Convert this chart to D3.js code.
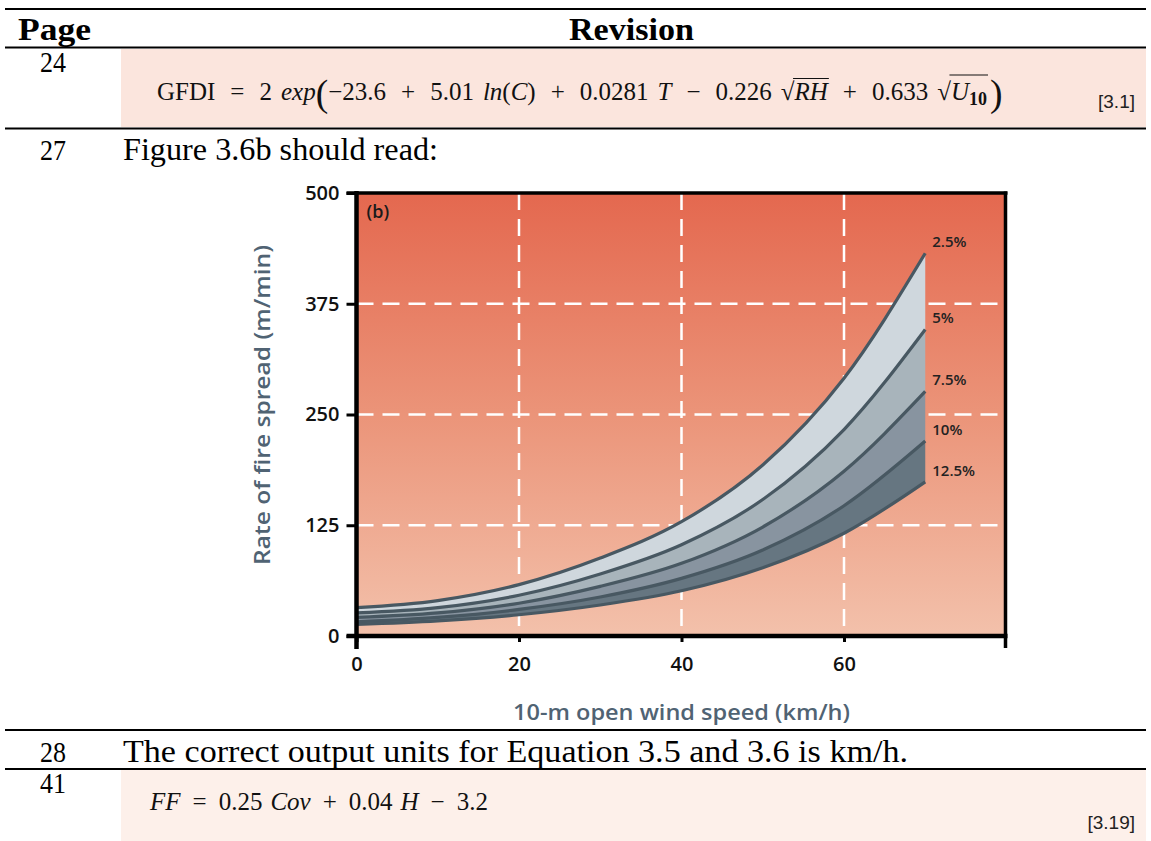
<!DOCTYPE html>
<html>
<head>
<meta charset="utf-8">
<script src="https://cdn.jsdelivr.net/npm/d3@7"></script>
<style>
  html, body { margin: 0; padding: 0; background: #fff; }
  svg { display: block; }
  text { white-space: pre; }
</style>
</head>
<body>
<svg id="chart" width="1151" height="841"></svg>
<script>
// ---------------- DATA ----------------
const windSpeed = [0, 10, 20, 30, 40, 50, 60, 70];          // km/h
const moistureLabels = ["2.5%", "5%", "7.5%", "10%", "12.5%"];
const ros2_5  = [32, 40, 58, 88, 129, 193, 291, 432];        // m/min
const ros5    = [26, 32, 46, 70, 103, 154, 233, 346];
const ros7_5  = [21, 26, 37, 56, 82, 123, 186, 276];
const ros10   = [16, 21, 30, 44, 65, 97, 147, 220];
const ros12_5 = [13, 17, 24, 35, 51, 77, 116, 174];
const xTicks = [0, 20, 40, 60];
const yTicks = [0, 125, 250, 375, 500];
const xTitle = "10-m open wind speed (km/h)";
const yTitle = "Rate of fire spread (m/min)";
const panelLabel = "(b)";

const tablePages = ["24", "27", "28", "41"];
const tableHeader = ["Page", "Revision"];
const row27Text = "Figure 3.6b should read:";
const row28Text = "The correct output units for Equation 3.5 and 3.6 is km/h.";
const eqNumbers = ["[3.1]", "[3.19]"];

// ---------------- SETUP ----------------
const svg = d3.select("#chart");
svg.append("rect").attr("width", 1151).attr("height", 841).attr("fill", "#fff");

const serif = "'Liberation Serif', 'DejaVu Serif', serif";
const sans = "'Liberation Sans', Arial, sans-serif";
const chartFont = "'Open Sans', Lato, sans-serif";
const titleColor = "#506373";

// ---------------- TABLE ----------------
const T = svg.append("g");
T.append("rect").attr("x", 121).attr("y", 49).attr("width", 1025).attr("height", 78).attr("fill", "#fbe5dd");
T.append("rect").attr("x", 121).attr("y", 770).attr("width", 1025).attr("height", 71).attr("fill", "#fdf0ea");

[[9, 2.2], [47.5, 2.2], [128.5, 2.2], [730, 2], [769, 2]].forEach(([y, w]) => {
  T.append("line").attr("x1", 5).attr("x2", 1146).attr("y1", y).attr("y2", y)
    .attr("stroke", "#000").attr("stroke-width", w);
});

function tableText(x, y, txt, size, len, bold) {
  const t = T.append("text").attr("x", x).attr("y", y).attr("font-family", serif)
    .attr("font-size", size).attr("font-weight", bold ? "bold" : "normal").attr("fill", "#000").text(txt);
  if (len) t.attr("textLength", len).attr("lengthAdjust", "spacingAndGlyphs");
  return t;
}
tableText(18, 40, tableHeader[0], 31, 73, true);
tableText(569, 40, tableHeader[1], 31, 125, true);

[[72, 0], [160, 1], [762, 2], [793, 3]].forEach(([y, i]) => tableText(40, y, tablePages[i], 30, 26));
tableText(123, 160, row27Text, 31, 315);
tableText(123, 762, row28Text, 31, 785);

T.append("text").attr("x", 1135).attr("y", 108).attr("text-anchor", "end").attr("font-family", sans)
  .attr("font-size", 19).attr("fill", "#222").text(eqNumbers[0]);
T.append("text").attr("x", 1135).attr("y", 829).attr("text-anchor", "end").attr("font-family", sans)
  .attr("font-size", 19).attr("fill", "#222").text(eqNumbers[1]);

// equation renderer: pieces laid out left to right ({g:n} = horizontal gap)
function drawEq(g, x0, base, size, pieces) {
  let x = x0;
  const placed = [];
  pieces.forEach(p => {
    if (p.g !== undefined) { x += p.g; return; }
    const fs = p.big ? size * 1.5 : (p.sub ? size * 0.72 : size);
    const t = g.append("text")
      .attr("x", x).attr("y", base + (p.sub ? 5 : 0) + (p.big ? 6 : 0))
      .attr("font-family", serif).attr("font-size", fs)
      .attr("font-style", p.it ? "italic" : "normal")
      .attr("font-weight", p.bold ? "bold" : "normal")
      .attr("fill", "#111")
      .text(p.t);
    const w = t.node().getComputedTextLength();
    placed.push({p, x, w});
    x += w;
  });
  let i = 0;
  while (i < placed.length) {
    if (placed[i].p.rad) {
      const r = placed[i];
      let j = i + 1, end = r.x + r.w;
      while (j < placed.length && placed[j].p.over) { end = placed[j].x + placed[j].w; j++; }
      const top = base - size * (r.p.tall ? 1.0 : 0.86);
      g.append("line").attr("x1", r.x + r.w - 1.5).attr("x2", end + 1)
        .attr("y1", top).attr("y2", top).attr("stroke", "#111").attr("stroke-width", 1.2);
      i = j;
    } else i++;
  }
  return x;
}

const op = 15, cv = 9;
drawEq(T, 157, 100, 25, [
  {t: "GFDI"}, {g: op}, {t: "="}, {g: op}, {t: "2"}, {g: cv}, {t: "exp", it: 1}, {t: "(", big: 1},
  {t: "−23.6"}, {g: op}, {t: "+"}, {g: op}, {t: "5.01"}, {g: cv}, {t: "ln", it: 1}, {t: "("}, {t: "C", it: 1}, {t: ")"},
  {g: op}, {t: "+"}, {g: op}, {t: "0.0281"}, {g: cv},
  {t: "T", it: 1}, {g: op}, {t: "−"}, {g: op}, {t: "0.226"}, {g: cv}, {t: "√", rad: 1}, {t: "RH", it: 1, over: 1},
  {g: op}, {t: "+"}, {g: op}, {t: "0.633"}, {g: cv}, {t: "√", rad: 1, tall: 1}, {t: "U", it: 1, over: 1},
  {t: "10", sub: 1, bold: 1, over: 1}, {g: 3},
  {t: ")", big: 1}
]);

drawEq(T, 150, 810, 25, [
  {t: "FF", it: 1}, {g: 12}, {t: "="}, {g: 12}, {t: "0.25"}, {g: 8}, {t: "Cov", it: 1}, {g: 12}, {t: "+"}, {g: 12},
  {t: "0.04"}, {g: 8}, {t: "H", it: 1}, {g: 12}, {t: "−"}, {g: 12}, {t: "3.2"}
]);

// ---------------- CHART ----------------
const x = d3.scaleLinear().domain([0, 80]).range([356.5, 1006.5]);
const y = d3.scaleLinear().domain([0, 500]).range([636, 193]);

const defs = svg.append("defs");
const grad = defs.append("linearGradient").attr("id", "bg").attr("x1", 0).attr("y1", 0).attr("x2", 0).attr("y2", 1);
grad.append("stop").attr("offset", "0%").attr("stop-color", "#e4684f");
grad.append("stop").attr("offset", "50%").attr("stop-color", "#eb9479");
grad.append("stop").attr("offset", "100%").attr("stop-color", "#f3c1ab");

const C = svg.append("g");
C.append("rect").attr("x", x(0)).attr("y", y(500)).attr("width", x(80) - x(0)).attr("height", y(0) - y(500))
  .attr("fill", "url(#bg)");

// grid
const dash = "17 9";
C.append("g").selectAll("line").data(yTicks.filter(d => d > 0 && d < 500)).join("line")
  .attr("x1", x(0)).attr("x2", x(80)).attr("y1", d => y(d)).attr("y2", d => y(d))
  .attr("stroke", "#fff").attr("stroke-width", 2.5).attr("stroke-dasharray", dash);
C.append("g").selectAll("line").data(xTicks.filter(d => d > 0)).join("line")
  .attr("x1", d => x(d)).attr("x2", d => x(d)).attr("y1", y(500)).attr("y2", y(0))
  .attr("stroke", "#fff").attr("stroke-width", 2.5).attr("stroke-dasharray", dash);

// bands
const series = [ros2_5, ros5, ros7_5, ros10, ros12_5];
const bandFill = ["#cfd7dd", "#a8b4bb", "#8894a0", "#667681"];
const curve = d3.curveMonotoneX;
for (let i = 0; i < 4; i++) {
  const upper = series[i], lower = series[i + 1];
  const area = d3.area().curve(curve)
    .x((d, k) => x(windSpeed[k]))
    .y0((d, k) => y(lower[k]))
    .y1((d, k) => y(upper[k]));
  C.append("path").datum(windSpeed).attr("d", area).attr("fill", bandFill[i]);
}
series.forEach(s => {
  const line = d3.line().curve(curve).x((d, k) => x(windSpeed[k])).y((d, k) => y(s[k]));
  C.append("path").datum(windSpeed).attr("d", line).attr("fill", "none")
    .attr("stroke", "#485862").attr("stroke-width", 3.2);
});

// end labels
const last = windSpeed.length - 1;
series.forEach((s, i) => {
  C.append("text").attr("x", x(windSpeed[last]) + 7).attr("y", y(s[last]) - 6)
    .attr("font-family", chartFont).attr("font-size", 15).attr("font-weight", 600).attr("fill", "#222")
    .text(moistureLabels[i]);
});

// frame & axes
const yAxis = d3.axisLeft(y).tickValues(yTicks).tickSize(10).tickPadding(7);
const gy = C.append("g").attr("transform", `translate(${x(0)},0)`).call(yAxis);
gy.select(".domain").remove();
gy.selectAll(".tick line").attr("stroke", "#000").attr("stroke-width", 3);
gy.selectAll(".tick text").attr("font-family", chartFont).attr("font-size", 20).attr("font-weight", 600).attr("fill", "#111");

const xAxis = d3.axisBottom(x).tickValues(xTicks).tickSize(6).tickPadding(15);
const gx = C.append("g").attr("transform", `translate(0,${y(0)})`).call(xAxis);
gx.select(".domain").remove();
gx.selectAll(".tick line").attr("stroke", "#000").attr("stroke-width", 3);
gx.selectAll(".tick text").attr("font-family", chartFont).attr("font-size", 20).attr("font-weight", 600).attr("fill", "#111");

C.append("line").attr("x1", x(0)).attr("x2", x(0)).attr("y1", y(500) - 2).attr("y2", y(0) + 13)
  .attr("stroke", "#000").attr("stroke-width", 4.5);
C.append("line").attr("x1", x(0) - 10).attr("x2", x(80) + 1).attr("y1", y(0)).attr("y2", y(0))
  .attr("stroke", "#000").attr("stroke-width", 4.5);
C.append("line").attr("x1", x(0) - 10).attr("x2", x(80) + 1).attr("y1", y(500)).attr("y2", y(500))
  .attr("stroke", "#000").attr("stroke-width", 3.5);
C.append("line").attr("x1", x(80) - 1).attr("x2", x(80) - 1).attr("y1", y(500) - 1.5).attr("y2", y(0) + 12)
  .attr("stroke", "#000").attr("stroke-width", 3.5);

C.append("text").attr("x", x(0) + 10).attr("y", y(500) + 25).attr("font-family", chartFont)
  .attr("font-size", 18).attr("font-weight", 600).attr("fill", "#1a1a1a").text(panelLabel);

C.append("text").attr("x", 513).attr("y", 720)
  .attr("font-family", chartFont).attr("font-size", 21).attr("font-weight", 600).attr("fill", titleColor)
  .attr("textLength", 337).attr("lengthAdjust", "spacingAndGlyphs").text(xTitle);
C.append("text").attr("transform", `translate(270,565) rotate(-90)`)
  .attr("font-family", chartFont).attr("font-size", 21).attr("font-weight", 600)
  .attr("fill", titleColor).attr("textLength", 320).attr("lengthAdjust", "spacingAndGlyphs").text(yTitle);
</script>
</body>
</html>
